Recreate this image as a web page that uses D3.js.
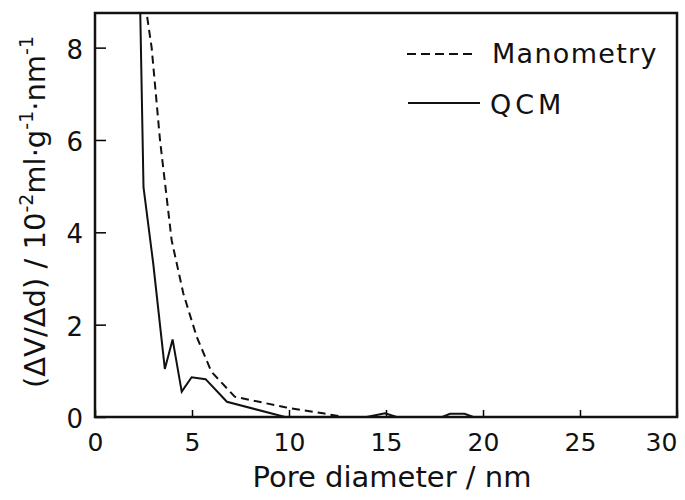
<!DOCTYPE html>
<html>
<head>
<meta charset="utf-8">
<script src="https://cdn.jsdelivr.net/npm/d3@7"></script>
<style>
  body { margin: 0; background: #fff; }
  text { font-family: "DejaVu Sans", sans-serif; fill: #111; }
</style>
</head>
<body>
<div id="chart"></div>
<script>
// pore diameter (nm) vs dV/dd (10^-2 ml g^-1 nm^-1)
const qcmX = [2.3, 2.5, 3.0, 3.6, 4.0, 4.47, 4.98, 5.7, 6.8, 9.8, 14.0, 14.95, 15.55, 17.9, 18.3, 19.05, 19.5, 30];
const qcmY = [9.5, 4.98, 3.33, 1.04, 1.68, 0.55, 0.86, 0.82, 0.33, 0.0, 0.0, 0.08, 0.0, 0.0, 0.07, 0.07, 0.0, 0.0];
const manoX = [2.4, 2.92, 3.35, 3.95, 4.55, 5.24, 6.0, 7.2, 9.8, 11.75, 12.8, 30];
const manoY = [9.5, 8.0, 6.0, 3.83, 2.68, 1.74, 0.98, 0.44, 0.21, 0.08, 0.0, 0.0];
const xTicks = [0, 5, 10, 15, 20, 25, 30];
const yTicks = [0, 2, 4, 6, 8];

const margin = {top: 13, right: 8, bottom: 83, left: 95};
const width = 685 - margin.left - margin.right;
const height = 500 - margin.top - margin.bottom;

const svg = d3.select("#chart").append("svg")
    .attr("width", 685)
    .attr("height", 500);

const g = svg.append("g")
    .attr("transform", "translate(" + margin.left + "," + margin.top + ")");

const x = d3.scaleLinear().domain([0, 30]).range([0, width]);
const y = d3.scaleLinear().domain([0, 8.75]).range([height, 0]);

g.append("clipPath").attr("id", "plotclip")
    .append("rect").attr("width", width).attr("height", height);

// axes with inward ticks
g.append("g")
    .attr("transform", "translate(0," + height + ")")
    .call(d3.axisBottom(x).tickValues(xTicks).tickSizeInner(-7).tickSizeOuter(0).tickPadding(16))
    .call(a => a.select(".domain").remove())
    .call(a => a.selectAll("line").attr("stroke-width", 1.5))
    .call(a => a.selectAll("text").style("font-size", "25px").attr("fill", "#111"))
    // last label sits left of its tick so it stays on the page
    .call(a => a.selectAll("text").filter(d => d === 30).attr("dx", -16));

g.append("g")
    .call(d3.axisLeft(y).tickValues(yTicks).tickSizeInner(-11).tickSizeOuter(0).tickPadding(12))
    .call(a => a.select(".domain").remove())
    .call(a => a.selectAll("line").attr("stroke-width", 1.5))
    .call(a => a.selectAll("text").style("font-size", "26px").attr("fill", "#111").attr("dy", "0.4em"));

// frame
g.append("rect")
    .attr("width", width)
    .attr("height", height)
    .attr("fill", "none")
    .attr("stroke", "#111")
    .attr("stroke-width", 2.5);

const line = d3.line().x(d => x(d[0])).y(d => y(d[1]));

g.append("path")
    .datum(d3.zip(manoX, manoY))
    .attr("clip-path", "url(#plotclip)")
    .attr("fill", "none")
    .attr("stroke", "#111")
    .attr("stroke-width", 2)
    .attr("stroke-dasharray", "8,5")
    .attr("d", line);

g.append("path")
    .datum(d3.zip(qcmX, qcmY))
    .attr("clip-path", "url(#plotclip)")
    .attr("fill", "none")
    .attr("stroke", "#111")
    .attr("stroke-width", 2)
    .attr("d", line);

// legend
const legend = svg.append("g");
legend.append("line")
    .attr("x1", 407).attr("x2", 476).attr("y1", 54).attr("y2", 54)
    .attr("stroke", "#111").attr("stroke-width", 2).attr("stroke-dasharray", "9,5");
legend.append("text").attr("x", 492).attr("y", 63).style("font-size", "27px")
    .style("letter-spacing", "1.3px").text("Manometry");
legend.append("line")
    .attr("x1", 408).attr("x2", 480).attr("y1", 103).attr("y2", 103)
    .attr("stroke", "#111").attr("stroke-width", 2);
legend.append("text").attr("x", 490).attr("y", 114).style("font-size", "27px")
    .style("letter-spacing", "4px").text("QCM");

// axis labels
svg.append("text")
    .attr("x", 392)
    .attr("y", 487)
    .attr("text-anchor", "middle")
    .style("font-size", "29px")
    .text("Pore diameter / nm");

const yl = svg.append("text")
    .attr("transform", "translate(45,212) rotate(-90)")
    .attr("text-anchor", "middle")
    .style("font-size", "29px");
yl.append("tspan").text("(ΔV/Δd) / 10");
yl.append("tspan").attr("dy", -12).style("font-size", "19px").text("-2");
yl.append("tspan").attr("dy", 12).text("ml·g");
yl.append("tspan").attr("dy", -12).style("font-size", "19px").text("-1");
yl.append("tspan").attr("dy", 12).text("·nm");
yl.append("tspan").attr("dy", -12).style("font-size", "19px").text("-1");
</script>
</body>
</html>
